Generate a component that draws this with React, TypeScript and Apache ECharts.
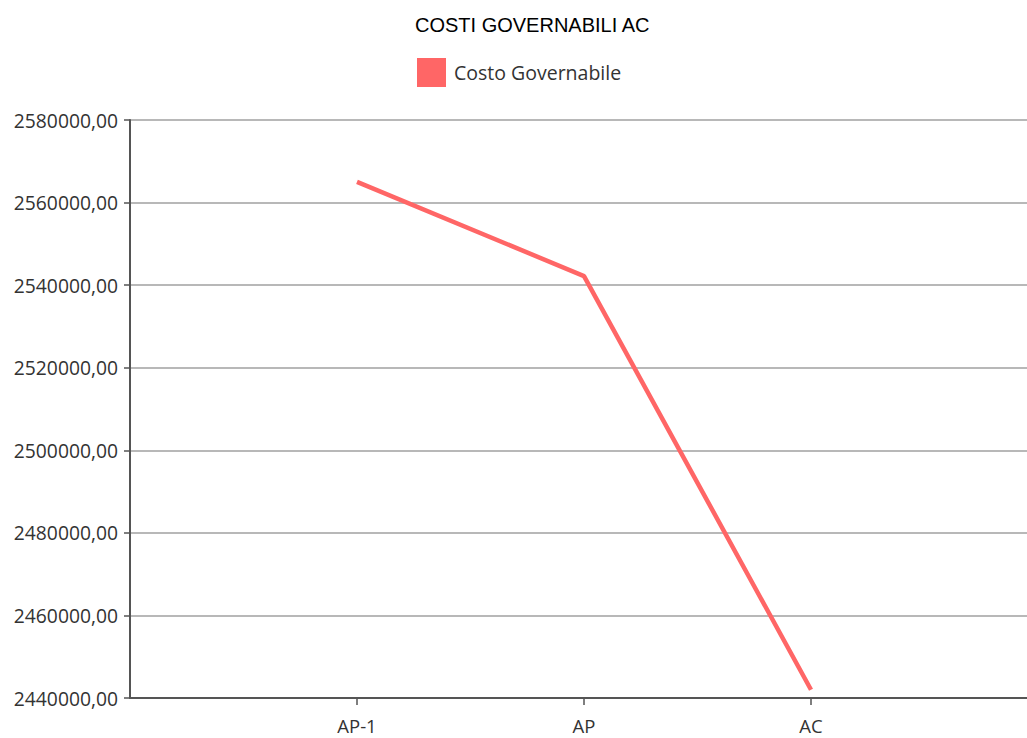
import React, { useEffect, useRef } from "react";
import * as echarts from "echarts";

const titleText = "COSTI GOVERNABILI AC";
const seriesName = "Costo Governabile";
const categories = ["", "AP-1", "AP", "AC", ""];
const values: (number | null)[] = [null, 2565000, 2542200, 2442000, null];
const yMin = 2440000;
const yMax = 2580000;
const yStep = 20000;

export default function App() {
  const ref = useRef<HTMLDivElement>(null);
  useEffect(() => {
    if (!ref.current) return;
    const chart = echarts.init(ref.current, undefined, { renderer: "svg" });
    const labelFont = "'Open Sans', 'Noto Sans', sans-serif";
    chart.setOption({
      animation: false,
      backgroundColor: "#ffffff",
      title: {
        text: titleText,
        left: 410,
        top: 10,
        textStyle: {
          fontFamily: "'Liberation Sans', Arial, sans-serif",
          fontSize: 20,
          fontWeight: "normal",
          color: "#000000",
        },
      },
      legend: {
        left: 417,
        top: 58,
        padding: 0,
        icon: "rect",
        itemWidth: 29,
        itemHeight: 29,
        itemGap: 8,
        textStyle: { fontFamily: labelFont, fontSize: 19.5, color: "#333333", padding: [0, 0, 0, 3] },
        data: [{ name: seriesName, itemStyle: { color: "#ff6666" } }],
      },
      grid: { left: 130, top: 120, bottom: 40, right: 12, containLabel: false },
      xAxis: {
        type: "category",
        boundaryGap: false,
        data: categories,
        axisLine: { lineStyle: { color: "#555555", width: 2 } },
        axisTick: {
          show: true,
          length: 7,
          interval: (i: number) => i >= 1 && i <= 3,
          lineStyle: { color: "#555555", width: 1.5 },
        },
        axisLabel: {
          fontFamily: labelFont,
          fontSize: 18.5,
          lineHeight: 19,
          color: "#333333",
          margin: 18,
          interval: 0,
        },
        splitLine: { show: false },
      },
      yAxis: {
        type: "value",
        min: yMin,
        max: yMax,
        interval: yStep,
        axisLine: { show: true, lineStyle: { color: "#555555", width: 2 } },
        axisTick: { show: true, length: 6, lineStyle: { color: "#555555", width: 1.5 } },
        axisLabel: {
          fontFamily: labelFont,
          fontSize: 19.3,
          color: "#333333",
          margin: 12,
          formatter: (v: number) => v.toFixed(2).replace(".", ","),
        },
        splitLine: { show: true, lineStyle: { color: "#a0a0a0", width: 1.5 } },
      },
      series: [
        {
          name: seriesName,
          type: "line",
          data: values,
          showSymbol: false,
          symbol: "none",
          connectNulls: false,
          lineStyle: { color: "#ff6666", width: 4.5 },
          itemStyle: { color: "#ff6666" },
        },
      ],
    });
    return () => chart.dispose();
  }, []);
  return (
    <div
      style={{
        position: "fixed",
        left: 0,
        top: 0,
        width: 1027,
        height: 738,
        overflow: "hidden",
        background: "#fff",
      }}
    >
      <div ref={ref} style={{ width: 1050, height: 738 }} />
    </div>
  );
}
